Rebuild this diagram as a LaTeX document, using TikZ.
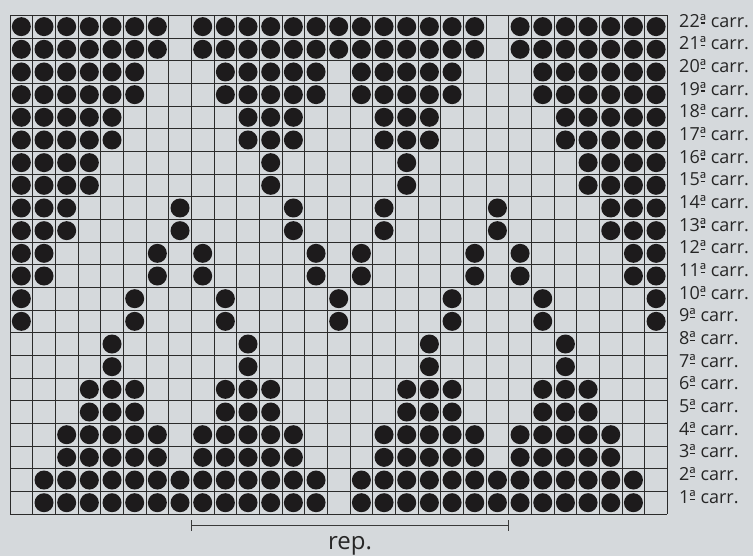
\documentclass[tikz,border=0pt]{standalone}
\usepackage{fontspec}
\setmainfont{Open Sans}
\definecolor{bg}{HTML}{D5D9DC}
\definecolor{dotc}{HTML}{1D1B1C}
\definecolor{gridc}{HTML}{2B2B2B}
\definecolor{repc}{HTML}{3A3A3A}
\newsavebox\ordbox
\newcommand\ordfem{\sbox\ordbox{ª}\rlap{\hspace{0.05em}\rule[0.20em]{\dimexpr\wd\ordbox-0.1em\relax}{0.065em}}\usebox\ordbox}
\begin{document}
\begin{tikzpicture}[x=1pt,y=-1pt,
  gridline/.style={gridc,line width=0.8pt},
  knotdot/.style={fill=dotc},
  rowlabel/.style={anchor=base west,inner sep=0pt,text=black!85,font=\fontsize{18}{18}\selectfont},
  replabel/.style={anchor=base,inner sep=0pt,text=black!85,font=\fontsize{24}{24}\selectfont},
  repline/.style={repc,line width=0.9pt}]
\fill[bg] (0,0) rectangle (753,556);
\useasboundingbox (0,0) rectangle (753,556);
\def\s{22.67}
\def\xo{10}
\def\yo{15.3}
% dots
\foreach \rw/\cl in {
  22/{1,2,3,4,5,6,7,9,10,11,12,13,14,15,16,17,18,19,20,21,23,24,25,26,27,28,29},
  21/{1,2,3,4,5,6,7,9,10,11,12,13,14,15,16,17,18,19,20,21,23,24,25,26,27,28,29},
  20/{1,2,3,4,5,6,10,11,12,13,14,16,17,18,19,20,24,25,26,27,28,29},
  19/{1,2,3,4,5,6,10,11,12,13,14,16,17,18,19,20,24,25,26,27,28,29},
  18/{1,2,3,4,5,11,12,13,17,18,19,25,26,27,28,29},
  17/{1,2,3,4,5,11,12,13,17,18,19,25,26,27,28,29},
  16/{1,2,3,4,12,18,26,27,28,29},
  15/{1,2,3,4,12,18,26,27,28,29},
  14/{1,2,3,8,13,17,22,27,28,29},
  13/{1,2,3,8,13,17,22,27,28,29},
  12/{1,2,7,9,14,16,21,23,28,29},
  11/{1,2,7,9,14,16,21,23,28,29},
  10/{1,6,10,15,20,24,29},
  9/{1,6,10,15,20,24,29},
  8/{5,11,19,25},
  7/{5,11,19,25},
  6/{4,5,6,10,11,12,18,19,20,24,25,26},
  5/{4,5,6,10,11,12,18,19,20,24,25,26},
  4/{3,4,5,6,7,9,10,11,12,13,17,18,19,20,21,23,24,25,26,27},
  3/{3,4,5,6,7,9,10,11,12,13,17,18,19,20,21,23,24,25,26,27},
  2/{2,3,4,5,6,7,8,9,10,11,12,13,14,16,17,18,19,20,21,22,23,24,25,26,27,28},
  1/{2,3,4,5,6,7,8,9,10,11,12,13,14,16,17,18,19,20,21,22,23,24,25,26,27,28}}
{
  \foreach \c in \cl {
    \fill[knotdot] ({\xo+(\c-0.5)*\s},{\yo+(22-\rw+0.5)*\s}) circle (9.5);
  }
  \node[rowlabel] (lab\rw) at (679,{\yo+(22-\rw+0.5)*\s+0.6}) {{\rw}\ordfem{} carr.};
}
% grid
\foreach \i in {0,...,29}
  \draw[gridline] ({\xo+\i*\s},\yo) -- ({\xo+\i*\s},{\yo+22*\s});
\foreach \j in {0,...,22}
  \draw[gridline] (\xo,{\yo+\j*\s}) -- ({\xo+29*\s},{\yo+\j*\s});
% repeat marker
\coordinate (repL) at ({\xo+8*\s},525);
\coordinate (repR) at ({\xo+22*\s},525);
\draw[repline] (repL) -- (repR);
\draw[repline] ([yshift=-5.5pt]repL) -- ([yshift=5.5pt]repL);
\draw[repline] ([yshift=-5.5pt]repR) -- ([yshift=5.5pt]repR);
\node[replabel] (rep) at (350,549.5) {rep.};
\end{tikzpicture}
\end{document}
